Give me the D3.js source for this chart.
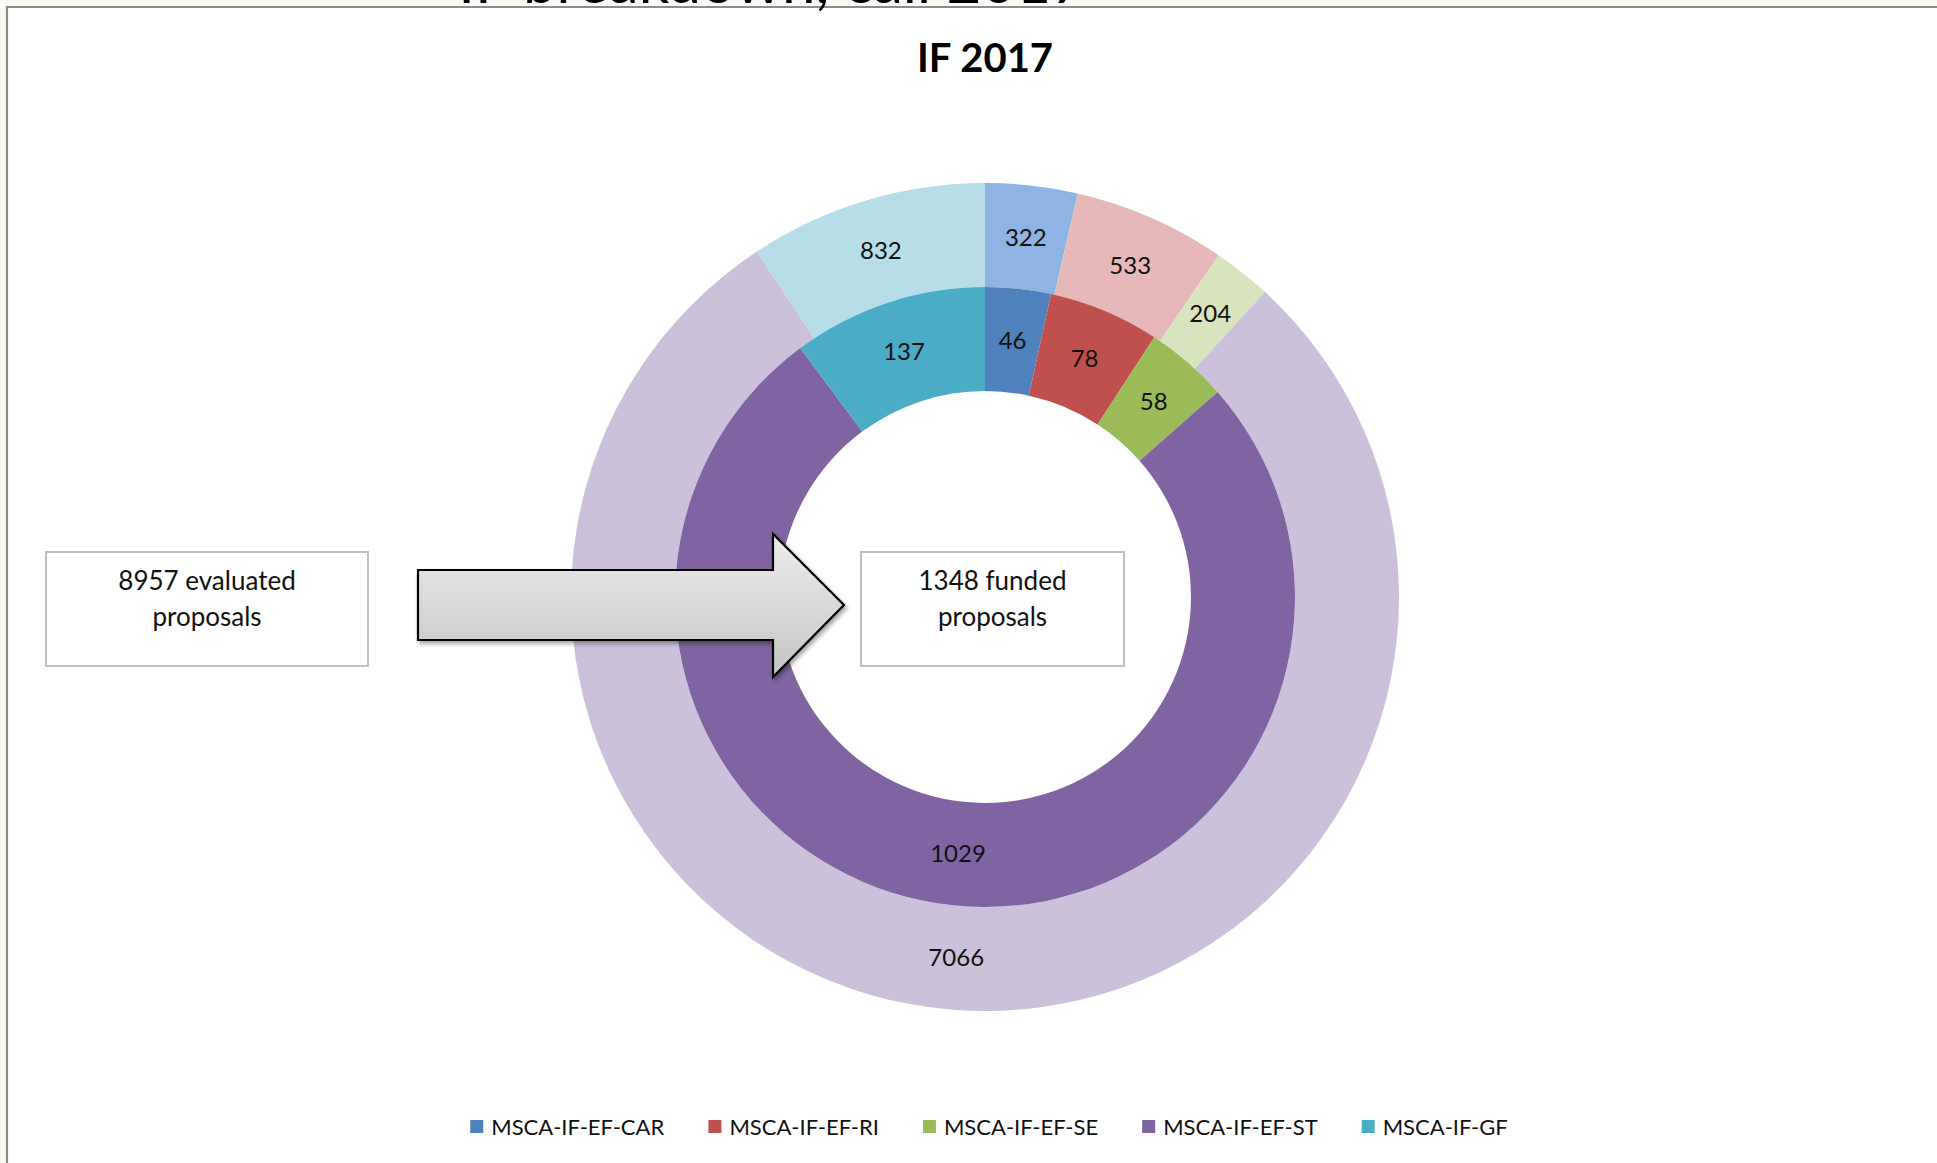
<!DOCTYPE html>
<html>
<head>
<meta charset="utf-8">
<script src="https://cdn.jsdelivr.net/npm/d3@7"></script>
<style>
  html, body { margin: 0; padding: 0; background: #FBFBF6; }
  svg { display: block; }
</style>
</head>
<body>
<script>
// ---- data ----
const categories = ["MSCA-IF-EF-CAR", "MSCA-IF-EF-RI", "MSCA-IF-EF-SE", "MSCA-IF-EF-ST", "MSCA-IF-GF"];
const fundedValues = [46, 78, 58, 1029, 137];          // inner ring
const evaluatedValues = [322, 533, 204, 7066, 832];    // outer ring
const darkColors = ["#4F81BD", "#C0504D", "#9BBB59", "#8064A2", "#4BACC6"];
const lightColors = ["#8EB4E3", "#E6B9B8", "#D7E4BD", "#CCC1DA", "#B7DEE8"];
const chartTitle = "IF 2017";
const slideTitle = "IF breakdown, call 2017";
const evaluatedBoxText = ["8957 evaluated", "proposals"];
const fundedBoxText = ["1348 funded", "proposals"];

const W = 1937, H = 1163;
const FONT = "Lato, 'Open Sans', sans-serif";
const svg = d3.select("body").append("svg").attr("width", W).attr("height", H);

// background: off-white outside frame, white inside
svg.append("rect").attr("x", 0).attr("y", 0).attr("width", W).attr("height", H).attr("fill", "#FBFBF6");
svg.append("rect").attr("x", 8).attr("y", 8).attr("width", W - 8).attr("height", H - 8).attr("fill", "#FFFFFF");
svg.append("path").attr("d", `M7,${H} L7,7 L${W},7`).attr("fill", "none")
  .attr("stroke", "#8C8C8C").attr("stroke-width", 2.2);

const defs = svg.append("defs");

// cut-off slide title (only its lower edge is visible, as in the original slide)
svg.append("text")
  .attr("x", 772).attr("y", 2.5).attr("text-anchor", "middle")
  .attr("font-family", FONT).attr("font-size", 60).attr("fill", "#000")
  .text(slideTitle);

// chart title
svg.append("text").attr("x", 985).attr("y", 72).attr("text-anchor", "middle")
  .attr("font-family", FONT).attr("font-weight", "bold").attr("font-size", 40).attr("fill", "#000")
  .text(chartTitle);

// doughnut
const cx = 985, cy = 597;
const R_OUT = 414, R_MID = 310, R_IN = 206;
const pie = d3.pie().sort(null).value(d => d);
const g = svg.append("g").attr("transform", `translate(${cx},${cy})`);

const outerArc = d3.arc().innerRadius(R_MID).outerRadius(R_OUT);
const innerArc = d3.arc().innerRadius(R_IN).outerRadius(R_MID);

const outerData = pie(evaluatedValues);
const innerData = pie(fundedValues);

g.selectAll("path.outer").data(outerData).join("path").attr("class", "outer")
  .attr("d", outerArc).attr("fill", (d, i) => lightColors[i]);
g.selectAll("path.inner").data(innerData).join("path").attr("class", "inner")
  .attr("d", innerArc).attr("fill", (d, i) => darkColors[i]);

g.selectAll("text.outerlbl").data(outerData).join("text").attr("class", "outerlbl")
  .attr("transform", d => `translate(${outerArc.centroid(d)})`)
  .attr("text-anchor", "middle").attr("dy", "0.35em")
  .attr("font-family", FONT).attr("font-size", 24).attr("fill", "#111")
  .text(d => d.data);
g.selectAll("text.innerlbl").data(innerData).join("text").attr("class", "innerlbl")
  .attr("transform", d => `translate(${innerArc.centroid(d)})`)
  .attr("text-anchor", "middle").attr("dy", "0.35em")
  .attr("font-family", FONT).attr("font-size", 24).attr("fill", "#111")
  .text(d => d.data);

// text boxes
function textBox(x, y, w, h, lines) {
  svg.append("rect").attr("x", x).attr("y", y).attr("width", w).attr("height", h)
    .attr("fill", "#fff").attr("stroke", "#BFBFBF").attr("stroke-width", 2);
  lines.forEach((t, i) => {
    svg.append("text").attr("x", x + w / 2).attr("y", y + 38 + i * 36)
      .attr("text-anchor", "middle").attr("font-family", FONT).attr("font-size", 26).attr("fill", "#111")
      .text(t);
  });
}
textBox(46, 552, 322, 114, evaluatedBoxText);

// arrow
const grad = defs.append("linearGradient").attr("id", "arrowGrad")
  .attr("x1", 0).attr("y1", 0).attr("x2", 0).attr("y2", 1);
grad.append("stop").attr("offset", "0%").attr("stop-color", "#EDEDED");
grad.append("stop").attr("offset", "100%").attr("stop-color", "#C4C4C4");
const shadow = defs.append("filter").attr("id", "shadow").attr("x", "-10%").attr("y", "-10%").attr("width", "120%").attr("height", "130%");
shadow.append("feDropShadow").attr("dx", 2).attr("dy", 3).attr("stdDeviation", 2).attr("flood-color", "#000").attr("flood-opacity", 0.35);
const ax0 = 418, ax1 = 773, ax2 = 844, ay0 = 534, ay1 = 570, ay2 = 640, ay3 = 677, aym = 605;
svg.append("path")
  .attr("d", `M${ax0},${ay1} L${ax1},${ay1} L${ax1},${ay0} L${ax2},${aym} L${ax1},${ay3} L${ax1},${ay2} L${ax0},${ay2} Z`)
  .attr("fill", "url(#arrowGrad)").attr("stroke", "#000").attr("stroke-width", 2.2)
  .attr("stroke-linejoin", "miter").attr("filter", "url(#shadow)");

textBox(861, 552, 263, 114, fundedBoxText);

// legend
const legend = svg.append("g").attr("transform", "translate(0,1127)");
const items = legend.selectAll("g").data(categories).join("g");
items.append("rect").attr("x", 0).attr("y", -7).attr("width", 13).attr("height", 13)
  .attr("fill", (d, i) => darkColors[i]);
items.append("text").attr("x", 21).attr("dy", "0.35em")
  .attr("font-family", FONT).attr("font-size", 22).attr("fill", "#111").text(d => d);
let x = 0;
const gap = 44;
const widths = [];
items.each(function () { widths.push(this.getBBox().width); });
const total = d3.sum(widths) + gap * (widths.length - 1);
x = 989 - total / 2;
items.each(function (d, i) {
  d3.select(this).attr("transform", `translate(${x},0)`);
  x += widths[i] + gap;
});
</script>
</body>
</html>
